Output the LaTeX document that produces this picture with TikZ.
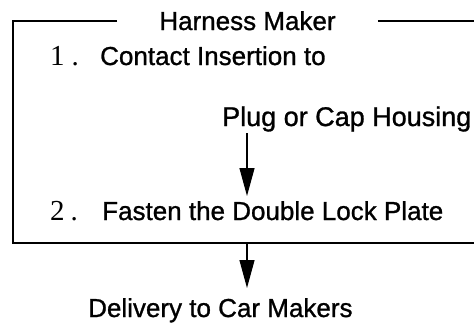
\documentclass[tikz,border=0pt]{standalone}
\usepackage{fontspec}
\usetikzlibrary{arrows.meta}
\newfontfamily\labelfont[FakeBold=1]{Liberation Sans}
\newfontfamily\numfont{Liberation Serif}
\tikzset{
  frame/.style={draw=black, line width=1.4pt},
  arr/.style={draw=black, line width=1.2pt, -{Triangle[length=28pt,width=15pt]}},
  lbl/.style={font=\labelfont\fontsize{26}{30}\selectfont, anchor=base west, inner sep=0pt},
  num/.style={font=\numfont\fontsize{29}{32}\selectfont, anchor=base west, inner sep=0pt}
}
\begin{document}
\begin{tikzpicture}[x=1pt, y=-1pt]
    \useasboundingbox (0,0) rectangle (474,322);
    \coordinate (tl) at (13,21);
    \coordinate (bl) at (13,243);
    \coordinate (br) at (474,243);
    \coordinate (tr) at (474,21);
    \node[lbl, anchor=base, inner xsep=42pt] (title) at (247.5,30) {Harness Maker};
    \node[num] (one) at (50,65) {1\hspace{7pt}.};
    \node[lbl] (contact) at (100,65) {Contact Insertion to};
    \node[lbl, font=\labelfont\fontsize{27}{30}\selectfont] (plug) at (222,126) {Plug or Cap Housing};
    \node[num] (two) at (50,220) {2\hspace{6pt}.};
    \node[lbl] (fasten) at (102,220) {Fasten the Double Lock Plate};
    \node[lbl] (deliv) at (88,317) {Delivery to Car Makers};
    \coordinate (a1) at (247,133);
    \coordinate (a1end) at (247,196);
    \coordinate (a2) at (247,243);
    \coordinate (a2end) at (247,288);
    \draw[frame] (title.west |- tl) -- (tl) -- (bl) -- (br);
    \draw[frame] (title.east |- tr) -- (tr);
    \draw[arr] (a1) -- (a1end);
    \draw[arr] (a2) -- (a2end);
\end{tikzpicture}
\end{document}
